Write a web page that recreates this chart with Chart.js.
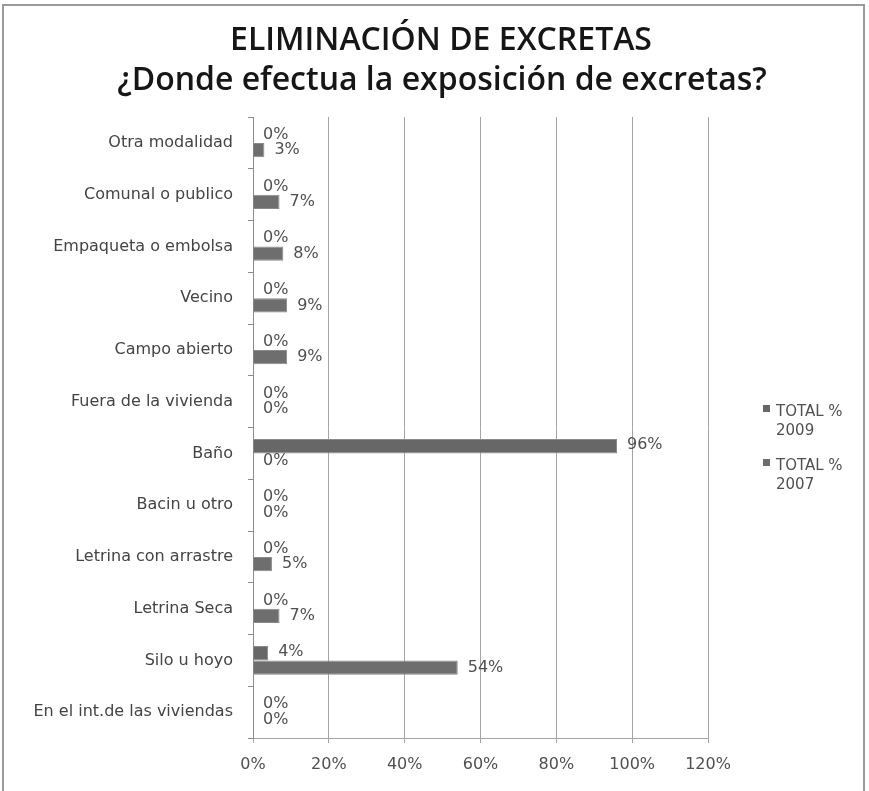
<!DOCTYPE html>
<html>
<head>
<meta charset="utf-8">
<script src="https://cdn.jsdelivr.net/npm/chart.js@4/dist/chart.umd.min.js"></script>
<style>
  html, body { margin: 0; padding: 0; background: #ffffff; }
  canvas { display: block; }
</style>
</head>
<body>
<canvas id="c" width="869" height="791"></canvas>
<script>
const titleLines = ['ELIMINACIÓN DE EXCRETAS', '¿Donde efectua la exposición de excretas?'];
const categories = [
  'Otra modalidad',
  'Comunal o publico',
  'Empaqueta o embolsa',
  'Vecino',
  'Campo abierto',
  'Fuera de la vivienda',
  'Baño',
  'Bacin u otro',
  'Letrina con arrastre',
  'Letrina Seca',
  'Silo u hoyo',
  'En el int.de las viviendas'
];
const seriesNames = [['TOTAL %', '2009'], ['TOTAL %', '2007']];
const total2009 = [0, 0, 0, 0, 0, 0, 96, 0, 0, 0, 4, 0];
const total2007 = [3, 7, 8, 9, 9, 0, 0, 0, 5, 7, 54, 0];
const axisMin = 0;
const axisMax = 120;
const axisStep = 20;

const FONT = '"DejaVu Sans", sans-serif';
const barColors = ['#676767', '#6e6e6e'];

const overlay = {
  id: 'overlay',
  afterDatasetsDraw(chart) {
    const ctx = chart.ctx;
    ctx.save();
    ctx.font = '16px ' + FONT;
    ctx.fillStyle = '#505050';
    ctx.textAlign = 'left';
    ctx.textBaseline = 'middle';
    chart.data.datasets.forEach((ds, di) => {
      const meta = chart.getDatasetMeta(di);
      meta.data.forEach((bar, i) => {
        ctx.fillText(ds.data[i] + '%', bar.x + 10, bar.y - (di === 0 ? 1 : 0));
      });
    });
    ctx.restore();
  },
  afterDraw(chart) {
    const ctx = chart.ctx;
    ctx.save();
    // title
    ctx.fillStyle = '#161616';
    ctx.font = '600 32px "Open Sans", sans-serif';
    ctx.textAlign = 'center';
    ctx.textBaseline = 'alphabetic';
    ctx.fillText(titleLines[0], 441, 50);
    ctx.fillText(titleLines[1], 442, 90);
    // legend
    ctx.font = '15px ' + FONT;
    ctx.textAlign = 'left';
    const legendTops = [416, 470];
    seriesNames.forEach((lines, i) => {
      const base = legendTops[i];
      ctx.fillStyle = barColors[i];
      ctx.fillRect(763, base - 11, 7, 7);
      ctx.fillStyle = '#505050';
      lines.forEach((t, k) => ctx.fillText(t, 776, base + k * 19));
    });
    // outer frame
    ctx.strokeStyle = '#9a9a9a';
    ctx.lineWidth = 2;
    ctx.strokeRect(3, 5, 861, 800);
    ctx.restore();
  }
};

new Chart(document.getElementById('c'), {
  type: 'bar',
  data: {
    labels: categories,
    datasets: [
      { label: seriesNames[0].join(' '), data: total2009, backgroundColor: barColors[0], borderColor: '#8a8a8a', borderWidth: 1 },
      { label: seriesNames[1].join(' '), data: total2007, backgroundColor: barColors[1], borderColor: '#8a8a8a', borderWidth: 1 }
    ]
  },
  options: {
    indexAxis: 'y',
    responsive: false,
    devicePixelRatio: 1,
    animation: false,
    categoryPercentage: 0.56,
    barPercentage: 1.0,
    layout: { padding: { top: 117, right: 161, bottom: 0, left: 0 } },
    plugins: {
      legend: { display: false },
      title: { display: false },
      tooltip: { enabled: false }
    },
    scales: {
      x: {
        min: axisMin,
        max: axisMax,
        ticks: {
          stepSize: axisStep,
          callback: v => v + '%',
          font: { family: FONT, size: 16 },
          color: '#505050',
          padding: 12
        },
        grid: { color: '#a4a4a4', tickLength: 5, lineWidth: 1 },
        border: { color: '#a4a4a4' },
        afterFit: s => { s.height = 53; }
      },
      y: {
        ticks: {
          font: { family: FONT, size: 16 },
          color: '#444444',
          padding: 15
        },
        grid: { drawOnChartArea: false, tickLength: 5, color: '#8c8c8c', offset: true },
        border: { color: '#8c8c8c' },
        afterFit: s => { s.width = 253; }
      }
    }
  },
  plugins: [overlay]
});
</script>
</body>
</html>
